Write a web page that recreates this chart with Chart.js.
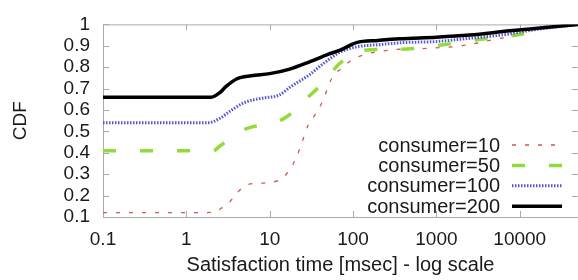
<!DOCTYPE html>
<html>
<head>
<meta charset="utf-8">
<script src="https://cdn.jsdelivr.net/npm/chart.js@4.4.1/dist/chart.umd.min.js"></script>
<style>
  html, body { margin: 0; padding: 0; background: #fff; }
  #wrap { width: 578px; height: 280px; position: relative; }
</style>
</head>
<body>
<div id="wrap"><canvas id="cdf"></canvas></div>
<script>
/* CDF del tiempo de satisfacción por número de consumidores (eje X log) */

const X_TICKS = [0.1, 1, 10, 100, 1000, 10000];
const Y_TICKS = [0.1, 0.2, 0.3, 0.4, 0.5, 0.6, 0.7, 0.8, 0.9, 1];

const LABELS = ["consumer=10", "consumer=50", "consumer=100", "consumer=200"];

const X_C10 = [0.1, 1, 2.2, 2.6, 3.3, 4.0, 5.3, 9, 14, 18, 21, 25, 29, 34, 43, 56, 76, 97, 132, 275, 760, 2000, 5000, 10000];
const Y_C10 = [0.12, 0.12, 0.122, 0.14, 0.17, 0.21, 0.25, 0.26, 0.28, 0.33, 0.38, 0.46, 0.53, 0.57, 0.64, 0.75, 0.80, 0.835, 0.857, 0.88, 0.888, 0.90, 0.93, 0.95];

const X_C50 = [0.1, 1, 2.1, 2.5, 3.2, 4.4, 6, 10, 14, 17.5, 22, 28, 35, 43, 55, 69, 95, 147, 440, 1200, 3300, 9100, 15000];
const Y_C50 = [0.41, 0.41, 0.41, 0.43, 0.46, 0.50, 0.52, 0.535, 0.555, 0.58, 0.615, 0.655, 0.69, 0.727, 0.775, 0.817, 0.855, 0.88, 0.885, 0.905, 0.93, 0.95, 0.965];

const X_C100 = [0.1, 1, 1.8, 2.5, 3.5, 5, 8, 13, 18, 24, 30, 45, 70, 110, 200, 400, 1000, 2500, 6000, 15000, 50000];
const Y_C100 = [0.54, 0.54, 0.54, 0.56, 0.60, 0.635, 0.655, 0.67, 0.71, 0.74, 0.765, 0.82, 0.87, 0.895, 0.905, 0.915, 0.92, 0.935, 0.95, 0.975, 1.0];

const X_C200 = [0.1, 1, 2, 2.5, 3, 4, 6, 10, 17, 30, 50, 70, 110, 200, 360, 1000, 2500, 7600, 20000, 50000];
const Y_C200 = [0.66, 0.66, 0.66, 0.68, 0.71, 0.745, 0.76, 0.77, 0.79, 0.825, 0.86, 0.88, 0.915, 0.925, 0.933, 0.94, 0.95, 0.97, 0.985, 1.0];

const FONT = "'Liberation Sans', Arial, Helvetica, sans-serif";
const TEXT = "#1a1a1a";
const FRAME = "#aaaaaa";

function pts(xs, ys) { return xs.map((x, i) => ({ x, y: ys[i] })); }

function series(label, xs, ys, color, width, dash, order) {
  return {
    label, data: pts(xs, ys),
    borderColor: color, backgroundColor: color,
    borderWidth: width, borderDash: dash,
    pointRadius: 0, fill: false,
    cubicInterpolationMode: "monotone",
    order
  };
}

// marco estilo gnuplot + marcas de tick hacia dentro
const framePlugin = {
  id: "frame",
  beforeDatasetsDraw(chart) {
    const { ctx, chartArea: a, scales } = chart;
    ctx.save();
    ctx.strokeStyle = FRAME;
    ctx.lineWidth = 1;
    ctx.beginPath();
    ctx.moveTo(a.left + 0.5, a.bottom + 0.5);
    ctx.lineTo(a.left + 0.5, a.top + 0.5);
    ctx.lineTo(a.right, a.top + 0.5);
    ctx.moveTo(a.left, a.bottom + 0.5);
    ctx.lineTo(a.right, a.bottom + 0.5);
    scales.y.ticks.forEach(t => {
      const y = Math.round(scales.y.getPixelForValue(t.value)) + 0.5;
      ctx.moveTo(a.left, y); ctx.lineTo(a.left + 6, y);
      ctx.moveTo(a.right, y); ctx.lineTo(a.right - 6, y);
    });
    scales.x.ticks.forEach(t => {
      const x = Math.round(scales.x.getPixelForValue(t.value)) + 0.5;
      ctx.moveTo(x, a.bottom); ctx.lineTo(x, a.bottom - 6);
      ctx.moveTo(x, a.top); ctx.lineTo(x, a.top + 6);
    });
    ctx.stroke();
    ctx.restore();
  }
};

// leyenda dentro del área, texto alineado a la derecha y muestra a su derecha
const keyPlugin = {
  id: "key",
  afterDatasetsDraw(chart) {
    const { ctx, chartArea: a } = chart;
    const textRight = a.right - 78;
    const x0 = a.right - 66, x1 = a.right - 16;
    ctx.save();
    ctx.font = "20px " + FONT;
    ctx.textAlign = "right";
    ctx.textBaseline = "middle";
    chart.data.datasets.forEach((d, i) => {
      const y = a.bottom - 72 + i * 20.4;
      ctx.fillStyle = TEXT;
      ctx.fillText(d.label, textRight, y + 1);
      ctx.strokeStyle = d.borderColor;
      ctx.lineWidth = d.borderWidth;
      ctx.setLineDash(d.borderDash || []);
      ctx.beginPath();
      ctx.moveTo(x0, y); ctx.lineTo(x1, y);
      ctx.stroke();
    });
    ctx.restore();
  }
};

new Chart(document.getElementById("cdf"), {
  type: "line",
  data: {
    datasets: [
      series(LABELS[0], X_C10, Y_C10, "#cc5a4e", 1.3, [4, 9], 3),
      series(LABELS[1], X_C50, Y_C50, "#8fdc3a", 3.5, [13, 24], 2),
      series(LABELS[2], X_C100, Y_C100, "#5656d0", 3, [1.5, 1.5], 1),
      series(LABELS[3], X_C200, Y_C200, "#000000", 3.5, [], 0)
    ]
  },
  options: {
    responsive: true,
    maintainAspectRatio: false,
    animation: false,
    layout: { padding: { top: 16, right: 0, bottom: 0, left: 0 } },
    plugins: { legend: { display: false }, tooltip: { enabled: false } },
    scales: {
      x: {
        type: "logarithmic",
        min: 0.1, max: 50000,
        afterBuildTicks: s => { s.ticks = X_TICKS.map(v => ({ value: v })); },
        afterFit: s => { s.height = 63; },
        ticks: {
          color: TEXT, font: { family: FONT, size: 19 }, padding: 11,
          maxRotation: 0, autoSkip: false,
          callback: v => String(v)
        },
        grid: { display: false, drawTicks: false },
        border: { display: false },
        title: {
          display: true, text: "Satisfaction time [msec] - log scale",
          color: TEXT, font: { family: FONT, size: 20 },
          padding: { top: 0, bottom: 3 }
        }
      },
      y: {
        type: "linear",
        min: 0.1, max: 1,
        afterBuildTicks: s => { s.ticks = Y_TICKS.map(v => ({ value: v })); },
        afterFit: s => { s.width = 103; },
        ticks: {
          color: TEXT, font: { family: FONT, size: 19 }, padding: 13,
          autoSkip: false,
          callback: v => String(Math.round(v * 10) / 10)
        },
        grid: { display: false, drawTicks: false },
        border: { display: false },
        title: {
          display: true, text: "CDF",
          color: TEXT, font: { family: FONT, size: 19 },
          padding: { top: 9, bottom: 0 }
        }
      }
    }
  },
  plugins: [framePlugin, keyPlugin]
});
</script>
</body>
</html>
